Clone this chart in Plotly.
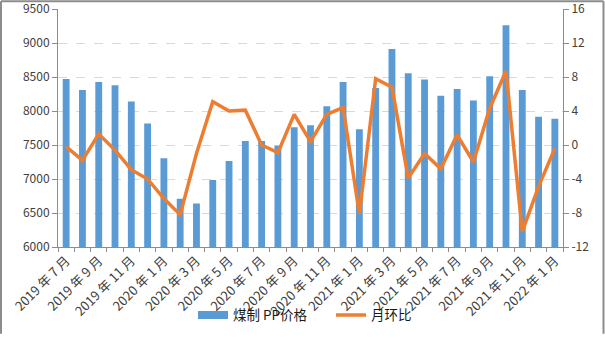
import plotly.graph_objects as go

# Months from 2019-07 to 2022-01
months = [
    "2019 年 7 月", "2019 年 8 月", "2019 年 9 月", "2019 年 10 月", "2019 年 11 月", "2019 年 12 月",
    "2020 年 1 月", "2020 年 2 月", "2020 年 3 月", "2020 年 4 月", "2020 年 5 月", "2020 年 6 月",
    "2020 年 7 月", "2020 年 8 月", "2020 年 9 月", "2020 年 10 月", "2020 年 11 月", "2020 年 12 月",
    "2021 年 1 月", "2021 年 2 月", "2021 年 3 月", "2021 年 4 月", "2021 年 5 月", "2021 年 6 月",
    "2021 年 7 月", "2021 年 8 月", "2021 年 9 月", "2021 年 10 月", "2021 年 11 月", "2021 年 12 月",
    "2022 年 1 月",
]

# 煤制 PP 价格 (元/吨)
pp_price = [
    8470, 8310, 8425, 8380, 8140, 7815,
    7305, 6710, 6640, 6985, 7265, 7560,
    7560, 7490, 7760, 7790, 8070, 8425,
    7730, 8340, 8910, 8555, 8465, 8225,
    8325, 8155, 8510, 9260, 8310, 7915,
    7885,
]

# 月环比 (%)
mom_change = [
    -0.2, -1.8, 1.3, -0.6, -2.9, -4.0,
    -6.3, -8.2, -1.0, 5.1, 4.0, 4.1,
    0.0, -0.9, 3.6, 0.4, 3.6, 4.4,
    -8.1, 7.8, 6.8, -3.9, -1.0, -2.8,
    1.2, -2.0, 4.3, 8.7, -10.2, -4.9,
    -0.4,
]

# axis ticks
price_ticks = [6000, 6500, 7000, 7500, 8000, 8500, 9000, 9500]
change_ticks = [-12, -8, -4, 0, 4, 8, 12, 16]

BLUE = "#5B9BD5"
ORANGE = "#ED7D31"
AXIS = "#8c8c8c"
TEXT = "#404040"
FONT = "Noto Sans CJK SC, Liberation Sans, sans-serif"

W, H = 605, 340
ML, MR, MT, MB = 58, 42, 9, 87
PW, PH = W - ML - MR, H - MT - MB

xs = list(range(len(months)))

fig = go.Figure()

fig.add_trace(go.Bar(
    x=xs, y=pp_price, name="煤制 PP价格",
    marker=dict(color=BLUE, line=dict(width=0)),
    showlegend=False,
))

# wide legend swatch for the price bars
fig.add_trace(go.Scatter(
    x=[None], y=[None], mode="lines", name="煤制 PP价格",
    line=dict(color=BLUE, width=8),
))

fig.add_trace(go.Scatter(
    x=xs, y=mom_change, name="月环比", yaxis="y2",
    mode="lines", line=dict(color=ORANGE, width=3.5),
))


def px_x(p):
    return (p - ML) / PW


def px_y(p):
    return (H - MB - p) / PH


# outer chart frame
frame = dict(type="line", xref="paper", yref="paper",
             line=dict(color=AXIS, width=2), layer="above")
fig.add_shape(x0=px_x(1), x1=px_x(1), y0=px_y(H + 2), y1=px_y(1), **frame)
fig.add_shape(x0=px_x(1), x1=px_x(W - 1.5), y0=px_y(1), y1=px_y(1), **frame)
fig.add_shape(x0=px_x(W - 1.5), x1=px_x(W - 1.5), y0=px_y(H + 2), y1=px_y(1), **frame)

fig.update_layout(
    width=W, height=H,
    margin=dict(l=ML, r=MR, t=MT, b=MB),
    paper_bgcolor="white", plot_bgcolor="white",
    font=dict(family=FONT, color=TEXT, size=12),
    bargap=0.58,
    xaxis=dict(
        range=[-0.5, len(months) - 0.5],
        tickvals=xs[::2], ticktext=months[::2],
        tickangle=-45, ticks="", showgrid=False, zeroline=False,
        showline=True, linecolor=AXIS, linewidth=1, automargin=False,
        tickfont=dict(size=13, color=TEXT),
        minor=dict(tickvals=[i - 0.5 for i in range(len(months) + 1)],
                   ticks="outside", ticklen=4, tickcolor=AXIS, showgrid=False),
    ),
    yaxis=dict(
        range=[price_ticks[0], price_ticks[-1]],
        tickvals=price_ticks, ticktext=[str(v) for v in price_ticks],
        ticklabeloverflow="allow", automargin=False,
        showline=True, linecolor=AXIS, linewidth=1,
        ticks="outside", ticklen=5, tickcolor=AXIS,
        gridcolor="#d9d9d9", griddash="dash", gridwidth=1,
        zeroline=False, tickfont=dict(size=12, color=TEXT),
    ),
    yaxis2=dict(
        range=[change_ticks[0], change_ticks[-1]],
        tickvals=change_ticks, ticktext=[str(v) for v in change_ticks],
        ticklabeloverflow="allow", automargin=False,
        overlaying="y", side="right",
        showline=True, linecolor=AXIS, linewidth=1,
        ticks="outside", ticklen=5, tickcolor=AXIS,
        showgrid=False, zeroline=False, tickfont=dict(size=12, color=TEXT),
    ),
    legend=dict(
        orientation="h", x=px_x(193), xanchor="left", y=px_y(323), yanchor="middle",
        entrywidth=93, entrywidthmode="pixels",
        font=dict(size=13.5, color="#1a1a1a"), bgcolor="rgba(0,0,0,0)",
    ),
)

fig.write_html("out.html")
